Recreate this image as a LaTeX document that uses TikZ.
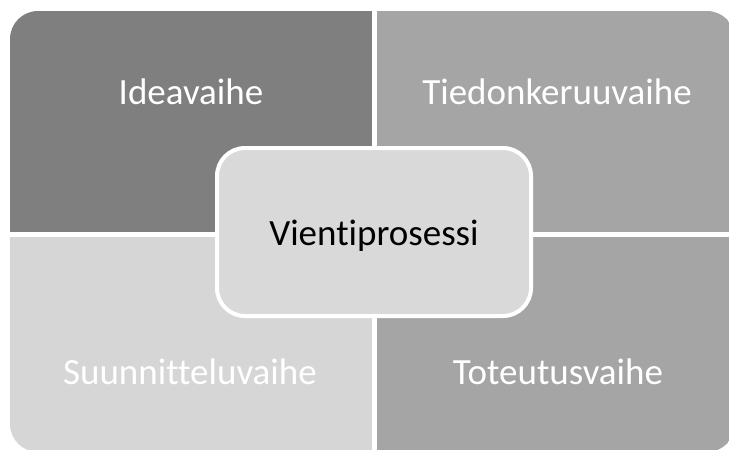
\documentclass[tikz,border=0pt]{standalone}
\usepackage{fontspec}
\setmainfont[Ligatures=NoCommon]{Carlito}
\definecolor{phasedark}{HTML}{7F7F7F}
\definecolor{phasemid}{HTML}{A5A5A5}
\definecolor{phaselight}{HTML}{D6D6D6}
\definecolor{corefill}{HTML}{D9D9D9}

\begin{document}
\begin{tikzpicture}[x=1pt, y=-1pt,
    phasetext/.style={text=white, anchor=base, inner sep=0pt, font=\fontsize{37}{40}\selectfont},
    corebox/.style={draw=white, line width=4pt, fill=corefill, rounded corners=28pt,
        minimum width=314pt, minimum height=168pt, inner sep=0pt,
        text height=26pt, text depth=0pt, font=\fontsize{37}{40}\selectfont}]
                                \clip (0, 0) rectangle (729, 450);
                                \begin{scope}
                                \clip[rounded corners=28pt] (10, 11) rectangle (735, 452);
                                \fill[phasedark] (10, 11) rectangle (372, 232);
                                \fill[phasemid] (377, 11) rectangle (735, 232);
                                \fill[phaselight] (10, 237) rectangle (372, 452);
                                \fill[phasemid] (377, 237) rectangle (735, 452);
                                \end{scope}
                                \node[phasetext] (idea) at (191, 104) {Ideavaihe};
                                \node[phasetext] (tieto) at (557, 104) {Tiedonkeruuvaihe};
                                \node[phasetext] (suunn) at (190, 384) {Suunnitteluvaihe};
                                \node[phasetext] (toteu) at (558, 384) {Toteutusvaihe};
                                \node[corebox] (vienti) at (374, 232) {Vientiprosessi};
                            \end{tikzpicture}
\end{document}
